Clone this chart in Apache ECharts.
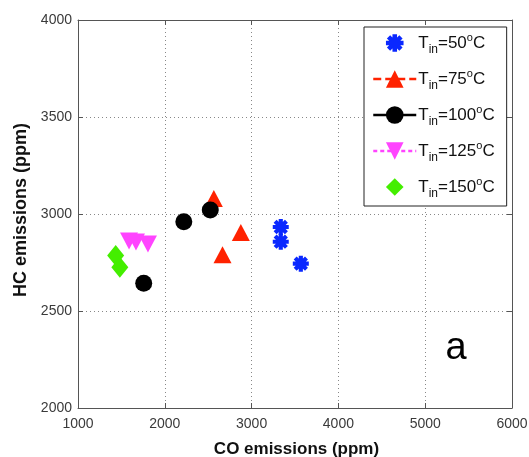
<!DOCTYPE html>
<html>
<head>
<meta charset="utf-8">
<script src="https://cdn.jsdelivr.net/npm/echarts@6/dist/echarts.min.js"></script>
<style>
html,body{margin:0;padding:0;background:#fff;}
#chart{width:529px;height:457px;}
</style>
</head>
<body>
<div id="chart"></div>
<script>
// ---- data ----
const seriesNames = ['50', '75', '100', '125', '150'];
const t50 = [[3336, 2933], [3336, 2857], [3567, 2744]];
const t75 = [[2565, 3080], [2876, 2904], [2665, 2790]];
const t100 = [[2219, 2960], [2524, 3021], [1757, 2643]];
const t125 = [[1588, 2861], [1668, 2856], [1806, 2845]];
const t150 = [[1434, 2786], [1482, 2726]];
const xTicks = [1000, 2000, 3000, 4000, 5000, 6000];
const yTicks = [2000, 2500, 3000, 3500, 4000];

const FONT = 'Liberation Sans, Arial, sans-serif';
const star = 'path://M0 7.4L20 7.4L20 12.6L0 12.6Z M12.6 0L12.6 20L7.4 20L7.4 0Z M4.77 1.09L18.91 15.23L15.23 18.91L1.09 4.77Z M18.91 4.77L4.77 18.91L1.09 15.23L15.23 1.09Z';

const styles = [
  {data: t50, symbol: star, size: 16, rotate: 0, color: '#0a28ff', line: {opacity: 0}},
  {data: t75, symbol: 'triangle', size: [18, 17], rotate: 0, color: '#ff2200', line: {opacity: 1, width: 2.5, type: [8, 4], color: '#ff2200'}},
  {data: t100, symbol: 'circle', size: 17, rotate: 0, color: '#000000', line: {opacity: 1, width: 2.5, type: 'solid', color: '#000000'}},
  {data: t125, symbol: 'triangle', size: [18, 17], rotate: 180, color: '#ff44ff', line: {opacity: 1, width: 2.5, type: [4, 3], color: '#ff44ff'}},
  {data: t150, symbol: 'diamond', size: [17, 21], rotate: 0, color: '#44ee00', line: {opacity: 0}}
];

const series = seriesNames.map((n, i) => ({
  name: n,
  type: 'line',
  data: styles[i].data,
  symbol: styles[i].symbol,
  symbolSize: styles[i].size,
  symbolRotate: styles[i].rotate,
  showSymbol: true,
  showAllSymbol: true,
  itemStyle: {color: styles[i].color, borderWidth: 0},
  lineStyle: {opacity: 0, width: 0.01},
  emphasis: {disabled: true},
  animation: false,
  z: 3 + i
}));

const rich = {
  t: {fontSize: 17, fontFamily: FONT, color: '#111', lineHeight: 26, verticalAlign: 'middle'},
  s: {fontSize: 12, fontFamily: FONT, color: '#111', lineHeight: 12, verticalAlign: 'bottom'},
  o: {fontSize: 11, fontFamily: FONT, color: '#111', lineHeight: 11, verticalAlign: 'top', padding: [2, 0, 0, 0]}
};

const plain = v => String(v);

const axisCommon = {
  type: 'value',
  axisLine: {show: true, lineStyle: {color: '#555', width: 1}},
  axisTick: {show: true, inside: true, length: 5, lineStyle: {color: '#555'}},
  axisLabel: {color: '#333', fontSize: 14, fontFamily: FONT, formatter: plain},
  splitLine: {show: false}
};

const chart = echarts.init(document.getElementById('chart'), null, {renderer: 'canvas'});
chart.setOption({
  animation: false,
  backgroundColor: '#ffffff',
  grid: {left: 78, right: 17, top: 20, bottom: 49, containLabel: false, outerBoundsMode: 'none'},
  xAxis: [
    Object.assign({}, axisCommon, {
      min: xTicks[0], max: xTicks[xTicks.length - 1], interval: 1000,
      position: 'bottom',
      name: 'CO emissions (ppm)', nameLocation: 'middle', nameGap: 33,
      nameTextStyle: {fontSize: 17, fontWeight: 'bold', fontFamily: FONT, color: '#111', padding: [0, 0, 0, 3]},
      axisLabel: {color: '#3a3a3a', fontSize: 14, fontFamily: FONT, margin: 9, formatter: plain},
      splitLine: {show: true, lineStyle: {color: '#888', type: [1, 3], width: 1}}
    }),
    Object.assign({}, axisCommon, {
      min: xTicks[0], max: xTicks[xTicks.length - 1], interval: 1000,
      position: 'top', axisLabel: {show: false}
    })
  ],
  yAxis: [
    Object.assign({}, axisCommon, {
      min: yTicks[0], max: yTicks[yTicks.length - 1], interval: 500,
      position: 'left',
      name: 'HC emissions (ppm)', nameLocation: 'middle', nameGap: 47, nameRotate: 90,
      nameTextStyle: {fontSize: 18, fontWeight: 'bold', fontFamily: FONT, color: '#111', padding: [0, 0, 0, 8]},
      axisLabel: {color: '#3a3a3a', fontSize: 14, fontFamily: FONT, margin: 6, formatter: plain},
      splitLine: {show: true, lineStyle: {color: '#888', type: [1, 3], width: 1}}
    }),
    Object.assign({}, axisCommon, {
      min: yTicks[0], max: yTicks[yTicks.length - 1], interval: 500,
      position: 'right', axisLabel: {show: false}
    })
  ],
  legend: {
    orient: 'vertical',
    left: 364, top: 27,
    padding: [3, 12, 6, 8],
    itemGap: 10,
    itemWidth: 43,
    itemHeight: 22,
    backgroundColor: '#ffffff',
    borderColor: '#222',
    borderWidth: 1,
    borderRadius: 0,
    selectedMode: false,
    data: seriesNames.map((n, i) => ({name: n, lineStyle: styles[i].line})),
    formatter: n => '{t|T}{s|in}{t|=' + n + '}{o|o}{t|C}',
    textStyle: {rich: rich, padding: [0, 0, 0, -3]}
  },
  graphic: [{
    type: 'text', x: 456, y: 349,
    style: {text: 'a', font: '38px ' + FONT, fill: '#000', align: 'center', verticalAlign: 'middle'}
  }],
  series: series
});
</script>
</body>
</html>
